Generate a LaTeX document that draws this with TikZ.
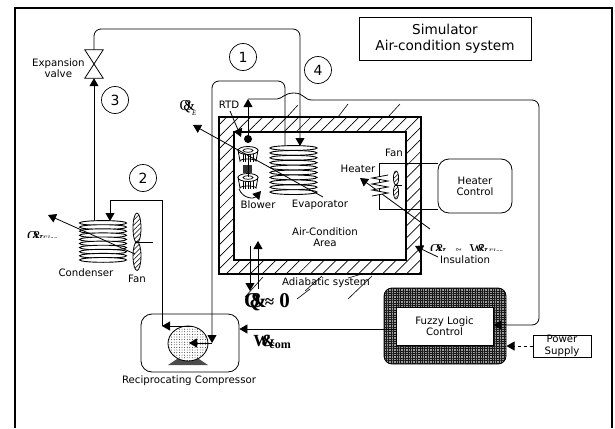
\documentclass[tikz,border=0pt]{standalone}
\usepackage{fontspec}
\setmainfont{DejaVu Sans}
\newfontfamily\symfont{Liberation Serif}
\usetikzlibrary{arrows.meta, patterns.meta, positioning, calc}
\tikzset{
	label/.style={inner sep=0pt, align=center, font=\fontsize{10.2}{11}\selectfont},
	boxed/.style={rectangle, draw=black, line width=0.8pt, align=center, font=\fontsize{10.2}{11}\selectfont, inner sep=0pt},
	roundbox/.style={boxed, rounded corners=11pt},
	number/.style={circle, draw=black, line width=0.7pt, minimum size=27pt, inner sep=0pt, font=\fontsize{14}{14}\selectfont},
	pipe/.style={line width=0.8pt, rounded corners=7pt},
	arrow/.style={-{Triangle[length=8pt,width=9pt]}, line width=0.8pt},
	softarrow/.style={arrow, dashed},
	coilturn/.style={draw=black, line width=0.9pt, fill=white},
	hatchfill/.style={pattern={Lines[angle=45,distance=8.5pt,line width=0.7pt]}},
	hatchline/.style={line width=0.6pt},
	symbol/.style={inner sep=0pt, font=\symfont\fontsize{13}{13}\selectfont},
}
\newcommand{\coilstack}[4]{\foreach \turn in {0,...,#4} \draw[coilturn] (#1,#2+\turn*#3) ellipse (23.5 and 2.4);}
\newcommand{\blowerwheel}[2]{
	\draw[line width=0.8pt, fill=white] (#1-10,#2+2) -- (#1-8,#2+13) arc (180:360:8 and 2) -- (#1+10,#2+2) -- cycle;
	\foreach \rib in {-5,-2.5,0,2.5,5} \draw[line width=0.8pt] (#1+\rib,#2+4) -- (#1+\rib,#2+14);
	\draw[line width=0.8pt, fill=white] (#1,#2+2.5) ellipse (10 and 4);
	\draw[line width=0.7pt] (#1,#2+2.5) ellipse (5 and 1.8);
}
\begin{document}
\begin{tikzpicture}[x=1pt, y=-1pt]
		\useasboundingbox (0,0) rectangle (615,428);
		\draw[line width=1.8pt] (15,428) -- (15,8) -- (612,8) -- (612,428);
		\node[boxed, minimum width=172pt, minimum height=43pt, font=\fontsize{13.6}{15.5}\selectfont] (title) at (445,38.5) {Simulator\\Air-condition system};
		\node[number] (one) at (243,57) {1};
		\node[number] (two) at (143,178) {2};
		\node[number] (three) at (115,100) {3};
		\node[number] (four) at (318,70) {4};
		% insulated room
		\fill[hatchfill, even odd rule] (219,117) rectangle (421,274) (234,132) rectangle (406,260);
		\draw[line width=1.6pt] (219,117) rectangle (421,274);
		\draw[line width=1.2pt] (234,132) rectangle (406,260);
		\foreach \xa/\ya/\xb/\yb in {287/117/298/105, 338/117/348/104, 388/117/400/104, 245/297/263/277, 297/299/310/289, 305/291/322/276, 348/299/372/276, 348/278/362/274}
			\draw[hatchline] (\xa,\ya) -- (\xb,\yb);
		\node[label] (room) at (325,237) {Air-Condition\\Area};
		\node[label] (adiabatic) at (326,283) {Adiabatic system};
		% coils, fans, blower
		\coilstack{293.5}{148}{4.9}{9}
		\coilstack{103}{223}{4.1}{9}
		\coordinate (evapleft) at (285,146);
		\coordinate (evapright) at (300,146);
		\coordinate (condleft) at (94,221);
		\coordinate (condright) at (110,221);
		\node[label] (evaporator) at (320,205) {Evaporator};
		\node[label] (condenser) at (86,273) {Condenser};
		\draw[pattern={Lines[angle=45,distance=3.5pt,line width=0.5pt]}, line width=0.8pt] (137,228) ellipse (4 and 15);
		\draw[pattern={Lines[angle=45,distance=3.5pt,line width=0.5pt]}, line width=0.8pt] (137,256) ellipse (4 and 14.5);
		\draw[line width=1pt] (137,242) -- (153,242);
		\node[label] (condfan) at (137,279) {Fan};
		\blowerwheel{248}{148}
		\blowerwheel{248}{175}
		\fill[black!80] (243,165) rectangle (252,173);
		\draw[line width=0.8pt] (248,160) -- (248,177);
		\draw[arrow] (239,189) .. controls (243,199) and (254,199) .. (261,191);
		\node[label] (blower) at (258,205) {Blower};
		% compressor
		\node[roundbox, minimum width=98pt, minimum height=58pt] (compressor) at (190,343) {};
		\fill[black!70] (168,365) -- (180,357) -- (196,357) -- (208,365) -- cycle;
		\draw[line width=0.8pt, fill=white] (188,343.5) circle (20 and 17.5);
		\fill[pattern={Dots[distance=2.6pt,radius=0.45pt]}] (188,343.5) circle (20 and 17.5);
		\node[label] (compressorlabel) at (189,381) {Reciprocating Compressor};
		% refrigerant loop
		\node[inner sep=0pt, minimum width=18pt, minimum height=28pt] (valve) at (94,64) {};
		\draw[line width=0.8pt] (valve.north west) -- (valve.north east) -- (valve.south west) -- (valve.south east) -- (valve.north west) -- cycle;
		\node[label, left=0pt of valve, yshift=-4pt] (valvelabel) {Expansion\\valve};
		\draw[pipe, -{Triangle[length=8pt,width=9pt]}] (valve.north) -- (94,29) -- (300,29) -- (evapright);
		\draw[arrow] (condleft) -- (valve.south);
		\draw[pipe, -{Triangle[length=8pt,width=9pt]}] (evapleft) -- (285,81) -- (212,81) -- (212,343);
		\draw[arrow] (212,343) -- (189,343);
		\draw[line width=0.8pt] (162,326) -- (162,200) -- (110,200);
		\draw[arrow] (110,200) -- (condright);
		\draw[arrow] (192,326) -- (162,326);
		% heat flows
		\draw[arrow] (323,197) -- (193,125);
		\draw[arrow] (135,254) -- (48,215);
		\draw[arrow] (430,229) -- (360,178);
		\draw[arrow] (250,246) -- (250,291);
		\draw[arrow] (258,289) -- (258,241);
		\draw[arrow] (438,257) -- (415,246);
		\node[label, anchor=west] (insulation) at (440,260) {Insulation};
		% sensor
		\fill[black] (248,139) circle (4);
		\node[label] (rtd) at (229,105) {RTD};
		\draw[arrow] (rtd.south) ++(1,2) -- (241,137);
		\draw[arrow] (248,139) -- (248,99);
		\coordinate (rtdtop) at (248,99);
		\coordinate (bumpend) at (312,100);
		% heater
		\node[roundbox, minimum width=74pt, minimum height=54pt] (heatercontrol) at (475,186) {Heater\\Control};
		\draw[line width=0.8pt] (heatercontrol.west |- 0,163) -- (379,163) -- (379,209) -- (heatercontrol.west |- 0,209);
		\draw[line width=0.8pt, fill=white] (388,175) -- (372,178) -- (388,181) -- (372,184) -- (388,187) -- (372,190) -- (388,193) -- (372,196);
		\draw[pattern={Lines[angle=45,distance=3pt,line width=0.4pt]}, line width=0.7pt] (396,178) ellipse (2.6 and 7);
		\draw[pattern={Lines[angle=45,distance=3pt,line width=0.4pt]}, line width=0.7pt] (396,192) ellipse (2.6 and 7);
		\draw[line width=0.8pt] (396,185) -- (402,185);
		\node[label] (heaterfan) at (394,153) {Fan};
		\node[label] (heater) at (358,169) {Heater};
		% controller
		\node[roundbox, rounded corners=8pt, minimum width=122pt, minimum height=76pt, preaction={fill=black!40}, pattern={Hatch[distance=2.4pt,line width=1pt]}, pattern color=black!90] (fuzzyframe) at (445,326) {};
		\node[boxed, fill=white, minimum width=97pt, minimum height=38pt, line width=0.6pt] (fuzzy) at (444.5,326) {Fuzzy Logic\\Control};
		\node[boxed, minimum width=58pt, minimum height=22pt, font=\fontsize{10.2}{12}\selectfont] (power) at (562,346) {Power\\Supply};
		\draw[softarrow] (power.west) -- (fuzzyframe.east |- power.west);
		\draw[arrow] (fuzzy.west |- 0,329) -- (compressor.east |- 0,329);
		\draw[line width=0.8pt] (rtdtop) -- (277,99) .. controls (282,99) and (284,93) .. (294,93) .. controls (304,93) and (304,100) .. (bumpend);
		\draw[pipe, -{Triangle[length=8pt,width=9pt]}] (bumpend) -- (539,100) -- (539,325) -- (fuzzy.east |- 0,325);
		% quantity symbols
		\node[symbol] (qe) at (188,108) {\fontsize{15}{15}\selectfont Q\kern-7pt\&\kern-3pt\raisebox{-5pt}{\itshape\fontsize{7}{7}\selectfont E}};
		\node[symbol, font=\symfont\bfseries\fontsize{21}{21}\selectfont] (qzero) at (267,302) {Q\kern-11pt\&\kern-2pt{\fontsize{17}{17}\selectfont ≈} 0};
		\node[symbol, font=\symfont\bfseries\fontsize{17}{17}\selectfont] (wcom) at (272,342) {W\kern-9pt\&\kern-6pt\raisebox{-2pt}{\fontsize{12}{12}\selectfont com}};
		\begin{scope}
			\clip (25,228) rectangle (58,237);
			\node[symbol, anchor=west, font=\symfont\fontsize{15}{15}\selectfont] (qcond) at (27,238) {Q\kern-6pt\&\kern-1pt{\itshape\fontsize{8}{8}\selectfont Elec}};
		\end{scope}
		\begin{scope}
			\clip (428,241) rectangle (503,250);
			\node[symbol, anchor=west, font=\symfont\fontsize{15}{15}\selectfont] (qelec) at (430,251) {Q\kern-6pt\&\kern9pt{\fontsize{11}{11}\selectfont ≈}\kern8pt W\kern-7pt\&{\itshape\fontsize{8}{8}\selectfont Elec}};
		\end{scope}
	\end{tikzpicture}
\end{document}
